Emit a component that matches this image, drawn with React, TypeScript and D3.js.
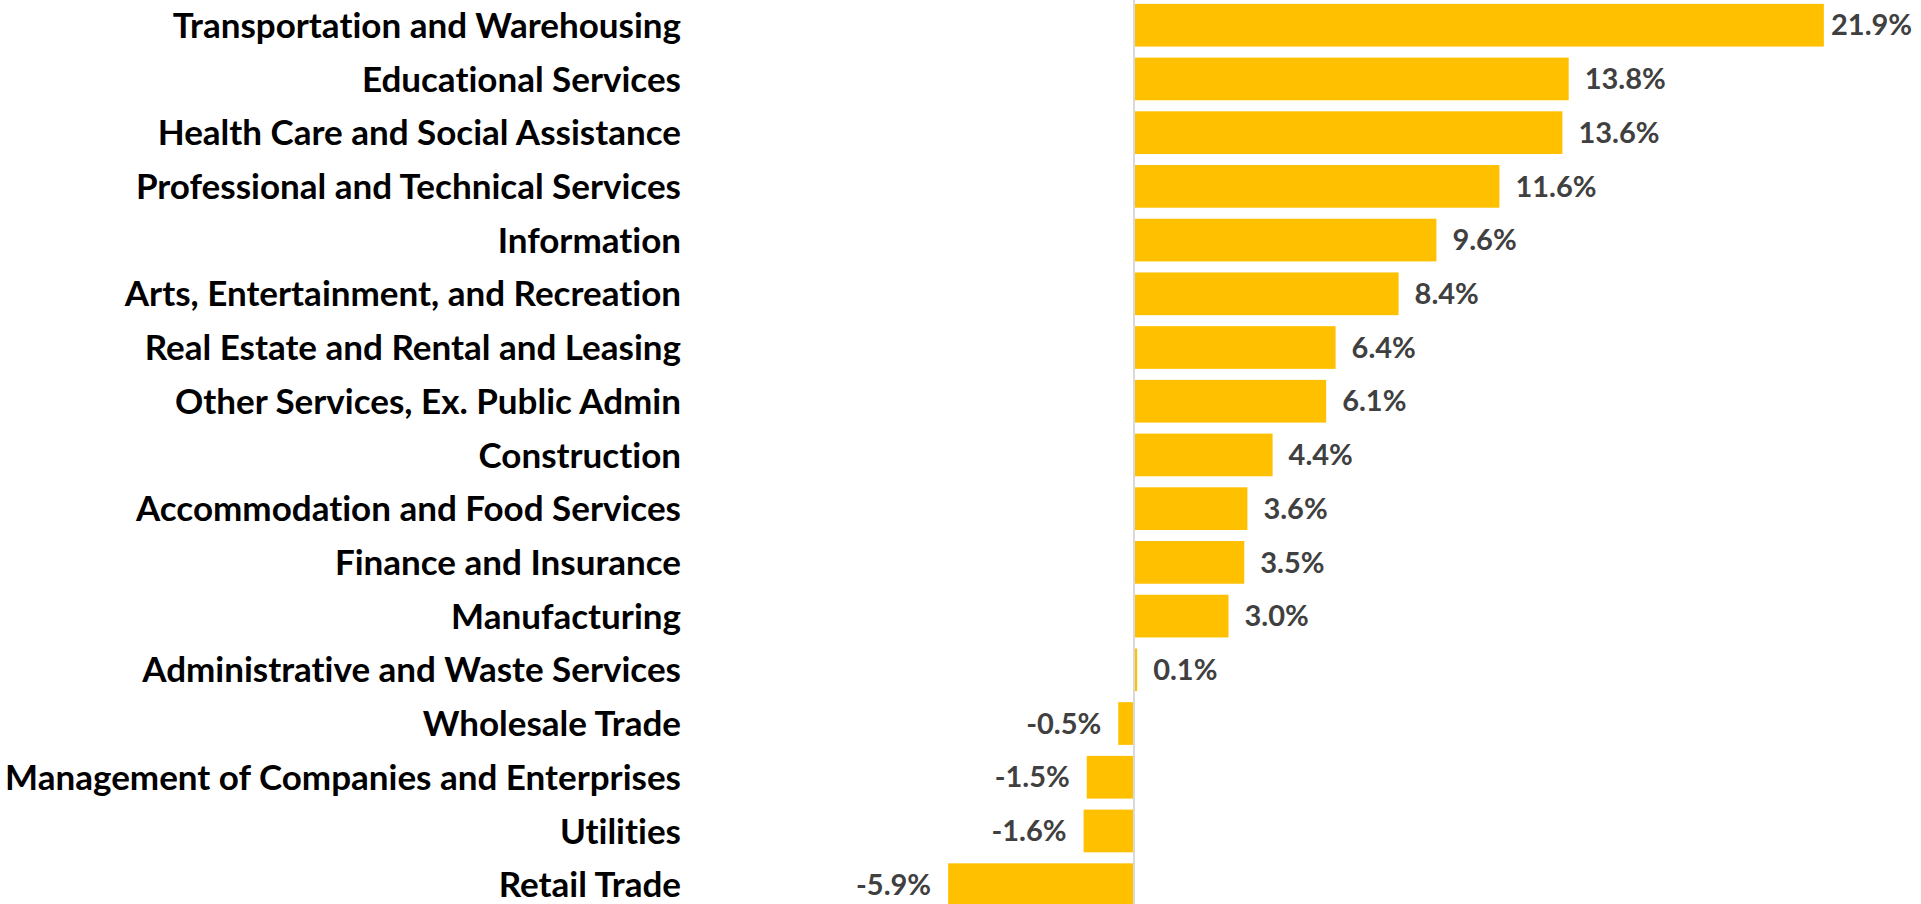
import React from "react";
import * as d3 from "d3";

const categories = [
  "Transportation and Warehousing",
  "Educational Services",
  "Health Care and Social Assistance",
  "Professional and Technical Services",
  "Information",
  "Arts, Entertainment, and Recreation",
  "Real Estate and Rental and Leasing",
  "Other Services, Ex. Public Admin",
  "Construction",
  "Accommodation and Food Services",
  "Finance and Insurance",
  "Manufacturing",
  "Administrative and Waste Services",
  "Wholesale Trade",
  "Management of Companies and Enterprises",
  "Utilities",
  "Retail Trade",
];

const values = [21.9, 13.8, 13.6, 11.6, 9.6, 8.4, 6.4, 6.1, 4.4, 3.6, 3.5, 3.0, 0.1, -0.5, -1.5, -1.6, -5.9];

const W = 1921;
const H = 904;
const FONT = "Lato, 'Carlito', Calibri, sans-serif";

export default function App() {
  const x = d3.scaleLinear().domain([-6, 22]).range([945, 1827]);
  const y = d3
    .scaleBand<string>()
    .domain(categories)
    .range([-1.5, -1.5 + 17 * 53.7])
    .paddingInner(0.205)
    .paddingOuter(0.1);
  const labelRight = 681;
  const valueMaxX = W - 90;
  const fmt = (v: number) => v.toFixed(1) + "%";
  const noLig = { fontVariantLigatures: "none" } as React.CSSProperties;

  return (
    <svg
      width={W}
      height={H}
      style={{ position: "absolute", left: 0, top: 0, display: "block", background: "#fff" }}
    >
      {categories.map((c, i) => {
        const v = values[i];
        const y0 = y(c)!;
        const bw = y.bandwidth();
        const x0 = x(Math.min(0, v));
        const x1 = x(Math.max(0, v));
        const cy = y0 + bw / 2;
        return (
          <g key={c}>
            <rect x={x0} y={y0} width={x1 - x0} height={bw} fill="#FFC000" />
            <text
              x={labelRight}
              y={cy}
              dy="0.36em"
              textAnchor="end"
              fontFamily={FONT}
              fontWeight={700}
              fontSize={35}
              fill="#000"
              style={noLig}
            >
              {c}
            </text>
            {v >= 0 ? (
              <text
                x={Math.min(x1 + 16, valueMaxX)}
                y={cy}
                dy="0.35em"
                textAnchor="start"
                fontFamily={FONT}
                fontWeight={700}
                fontSize={29}
                fill="#404040"
                style={noLig}
              >
                {fmt(v)}
              </text>
            ) : (
              <text
                x={x0 - 17}
                y={cy}
                dy="0.35em"
                textAnchor="end"
                fontFamily={FONT}
                fontWeight={700}
                fontSize={29}
                fill="#404040"
                style={noLig}
              >
                {fmt(v)}
              </text>
            )}
          </g>
        );
      })}
      <line x1={x(0)} x2={x(0)} y1={0} y2={H} stroke="#d9d9d9" strokeWidth={2} />
    </svg>
  );
}
